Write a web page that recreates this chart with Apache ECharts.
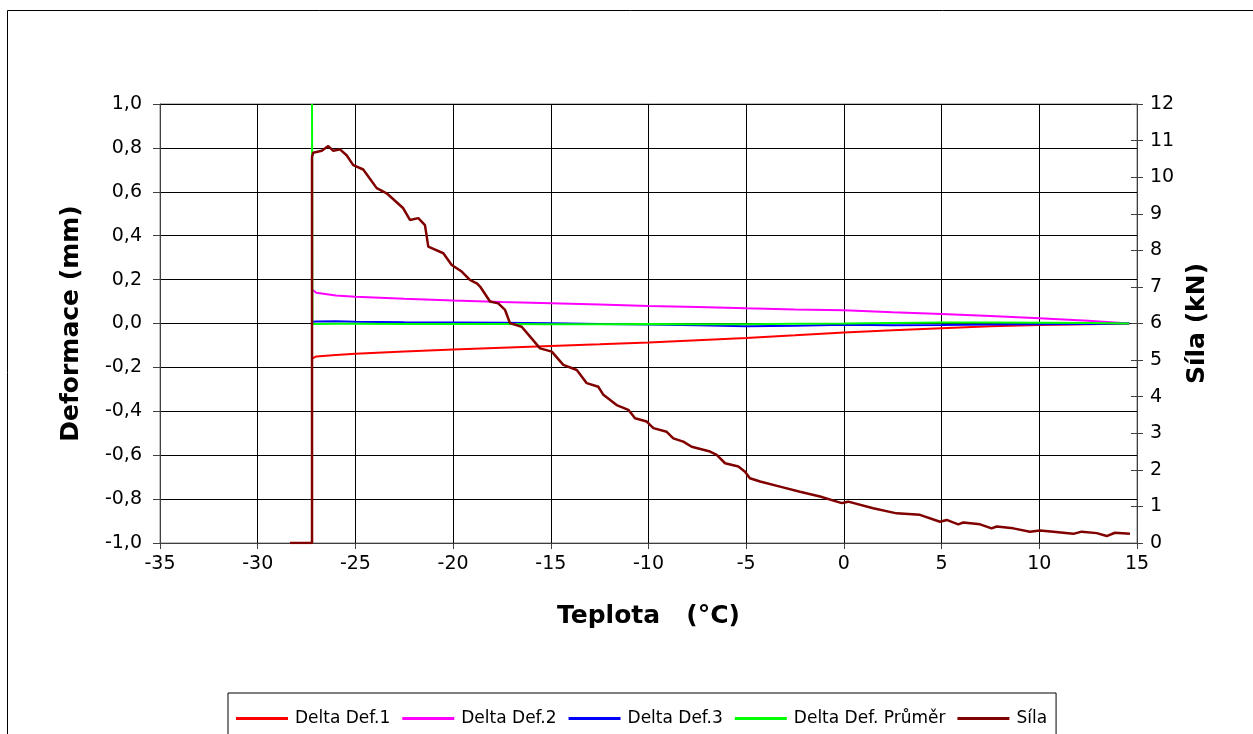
<!DOCTYPE html>
<html>
<head>
<meta charset="utf-8">
<script src="https://cdn.jsdelivr.net/npm/echarts@6/dist/echarts.min.js"></script>
<style>
html,body{margin:0;padding:0;background:#fff;}
#chart{width:1253px;height:734px;}
</style>
</head>
<body>
<div id="chart"></div>
<script>
// Temperature (°C) sample points for the deformation series
const defT = [-27.2, -27.0, -26.0, -25.0, -22.5, -20.0, -17.5, -15.0, -12.5, -10.0, -7.5, -5.0, -2.5, 0.0, 2.5, 5.0, 7.5, 10.0, 12.5, 14.6];
const def1 = [-0.159, -0.150, -0.143, -0.138, -0.128, -0.119, -0.111, -0.103, -0.095, -0.086, -0.076, -0.066, -0.054, -0.041, -0.031, -0.022, -0.013, -0.007, -0.003, 0.000];
const def2 = [0.153, 0.140, 0.128, 0.122, 0.113, 0.105, 0.098, 0.092, 0.086, 0.080, 0.075, 0.069, 0.064, 0.060, 0.051, 0.043, 0.034, 0.024, 0.012, 0.000];
const def3 = [0.008, 0.009, 0.010, 0.008, 0.006, 0.005, 0.003, 0.001, -0.002, -0.004, -0.008, -0.012, -0.010, -0.006, -0.008, -0.007, -0.005, -0.003, -0.002, 0.000];
const defAvg = [-0.002, -0.002, -0.001, -0.001, -0.002, -0.002, -0.002, -0.003, -0.003, -0.002, -0.003, -0.003, -0.001, 0.000, 0.002, 0.004, 0.004, 0.003, 0.002, 0.000];
// Start of the average series (vertical jump at the start temperature)
const avgStartT = [-27.22];
const avgStartV = [1.0];

// Force (kN) vs temperature
const silaT = [-28.35, -27.22, -27.22, -27.16, -26.72, -26.39, -26.13, -25.79, -25.45, -25.11, -24.60, -23.91, -23.40, -22.55, -22.21, -21.78, -21.44, -21.27, -20.50, -20.07, -19.56, -19.14, -18.79, -18.62, -18.11, -17.69, -17.34, -17.09, -16.49, -16.06, -15.55, -14.95, -14.36, -13.67, -13.16, -12.57, -12.31, -11.63, -11.03, -10.69, -10.09, -9.75, -9.07, -8.73, -8.22, -7.79, -6.85, -6.51, -6.08, -5.40, -5.06, -4.81, -4.29, -3.27, -2.25, -1.22, -0.11, 0.22, 1.50, 2.70, 3.89, 4.92, 5.26, 5.85, 6.11, 6.97, 7.56, 7.82, 8.67, 9.52, 10.04, 10.72, 11.74, 12.17, 12.94, 13.45, 13.87, 14.64];
const silaV = [0, 0, 10.55, 10.67, 10.72, 10.85, 10.72, 10.76, 10.60, 10.33, 10.21, 9.70, 9.56, 9.15, 8.83, 8.88, 8.69, 8.10, 7.92, 7.60, 7.42, 7.19, 7.10, 7.01, 6.60, 6.55, 6.37, 6.01, 5.91, 5.64, 5.32, 5.23, 4.87, 4.73, 4.37, 4.27, 4.05, 3.77, 3.64, 3.41, 3.32, 3.14, 3.04, 2.86, 2.77, 2.63, 2.50, 2.41, 2.18, 2.09, 1.95, 1.77, 1.68, 1.54, 1.40, 1.27, 1.09, 1.13, 0.95, 0.81, 0.77, 0.58, 0.63, 0.51, 0.56, 0.51, 0.40, 0.45, 0.40, 0.31, 0.34, 0.31, 0.25, 0.31, 0.27, 0.19, 0.28, 0.25];

const seriesNames = ['Delta Def.1', 'Delta Def.2', 'Delta Def.3', 'Delta Def. Průměr', 'Síla'];
const seriesColors = ['#ff0000', '#ff00ff', '#0000ff', '#00ff00', '#800000'];

const xTicks = { min: -35, max: 15, interval: 5 };
const yLeftTicks = { min: -1, max: 1, interval: 0.2 };
const yRightTicks = { min: 0, max: 12, interval: 1 };

function pairs(xs, ys) { return xs.map((x, i) => [x, ys[i]]); }

const FONT = '"DejaVu Sans", "Liberation Sans", Arial, sans-serif';

const chart = echarts.init(document.getElementById('chart'), null, { renderer: 'canvas' });

const lineSeries = (name, color, data, yIdx, width) => ({
  name: name, type: 'line', data: data, yAxisIndex: yIdx,
  showSymbol: false, symbol: 'none', animation: false,
  lineStyle: { color: color, width: width }, itemStyle: { color: color },
  clip: true
});

chart.setOption({
  animation: false,
  backgroundColor: '#fff',
  graphic: [{
    type: 'rect', shape: { x: 7.5, y: 10.5, width: 1400, height: 900 },
    style: { fill: 'none', stroke: '#000', lineWidth: 1 }, silent: true, z: -10
  }],
  grid: { left: 160, right: 116, top: 104, bottom: 191, show: true, borderColor: '#808080', borderWidth: 1 },
  legend: {
    left: 228, top: 693,
    data: seriesNames,
    icon: 'rect',
    itemWidth: 52, itemHeight: 3, itemGap: 12,
    padding: [17, 9, 40, 8],
    borderColor: '#000', borderWidth: 1,
    textStyle: { fontFamily: FONT, fontSize: 17, color: '#000', padding: [0, 0, 0, 2] }
  },
  xAxis: {
    type: 'value', min: xTicks.min, max: xTicks.max, interval: xTicks.interval,
    name: 'Teplota   (°C)', nameLocation: 'middle', nameGap: 61,
    nameTextStyle: { fontFamily: FONT, fontSize: 25, fontWeight: 'bold', color: '#000' },
    axisLine: { onZero: false, lineStyle: { color: '#404040', width: 1 } },
    axisTick: { show: true, inside: false, length: 6, lineStyle: { color: '#404040' } },
    axisLabel: { fontFamily: FONT, fontSize: 19, color: '#000', margin: 12 },
    splitLine: { show: true, lineStyle: { color: '#000', width: 1 } }
  },
  yAxis: [{
    type: 'value', min: yLeftTicks.min, max: yLeftTicks.max, interval: yLeftTicks.interval,
    position: 'left',
    name: 'Deformace (mm)', nameLocation: 'middle', nameGap: 76, nameRotate: 90,
    nameTextStyle: { fontFamily: FONT, fontSize: 25, fontWeight: 'bold', color: '#000' },
    axisLine: { show: true, onZero: false, lineStyle: { color: '#404040', width: 1 } },
    axisTick: { show: true, length: 7, lineStyle: { color: '#404040' } },
    axisLabel: { fontFamily: FONT, fontSize: 19, color: '#000', margin: 18,
      formatter: v => v.toFixed(1).replace('.', ',').replace('-0,0', '0,0') },
    splitLine: { show: true, lineStyle: { color: '#000', width: 1 } }
  }, {
    type: 'value', min: yRightTicks.min, max: yRightTicks.max, interval: yRightTicks.interval,
    position: 'right',
    name: 'Síla (kN)', nameLocation: 'middle', nameGap: 45, nameRotate: 90,
    nameTextStyle: { fontFamily: FONT, fontSize: 25, fontWeight: 'bold', color: '#000' },
    axisLine: { show: true, onZero: false, lineStyle: { color: '#404040', width: 1 } },
    axisTick: { show: true, length: 6, lineStyle: { color: '#404040' } },
    axisLabel: { fontFamily: FONT, fontSize: 19, color: '#000', margin: 13 },
    splitLine: { show: false }
  }, {
    type: 'value', min: yRightTicks.min, max: yRightTicks.max, interval: yRightTicks.interval,
    position: 'right', offset: 0,
    axisLine: { show: false, onZero: false },
    axisTick: { show: true, inside: true, length: 6, lineStyle: { color: '#404040' } },
    axisLabel: { show: false },
    splitLine: { show: false }
  }],
  series: [
    lineSeries(seriesNames[0], seriesColors[0], pairs(defT, def1), 0, 2),
    lineSeries(seriesNames[1], seriesColors[1], pairs(defT, def2), 0, 2),
    lineSeries(seriesNames[2], seriesColors[2], pairs(defT, def3), 0, 2),
    lineSeries(seriesNames[3], seriesColors[3], pairs(avgStartT, avgStartV).concat(pairs(defT, defAvg)), 0, 2),
    lineSeries(seriesNames[4], seriesColors[4], pairs(silaT, silaV), 1, 2.5)
  ]
});
</script>
</body>
</html>
